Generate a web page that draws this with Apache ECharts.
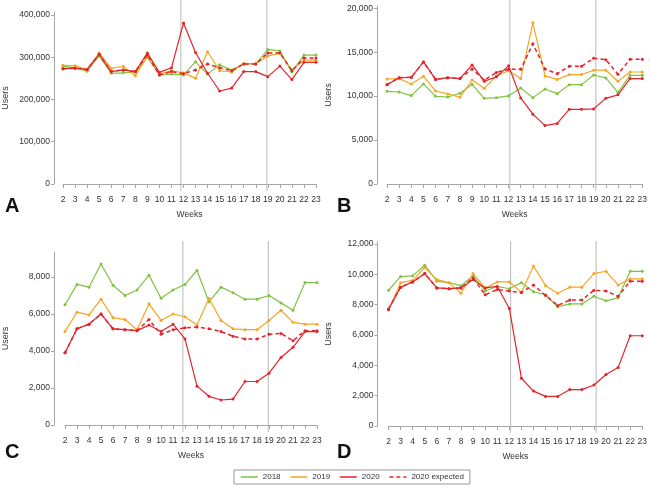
<!DOCTYPE html>
<html>
<head>
<meta charset="utf-8">
<script src="https://cdn.jsdelivr.net/npm/echarts@6/dist/echarts.min.js"></script>
<style>
  html, body { margin: 0; padding: 0; background: #fff; }
  #chart { width: 650px; height: 489px; }
</style>
</head>
<body>
<div id="chart"></div>
<script>
// weeks on the x axis
const weeks = ['2', '3', '4', '5', '6', '7', '8', '9', '10', '11', '12', '13', '14', '15', '16', '17', '18', '19', '20', '21', '22', '23']
const vLineWeeks = [12, 19]
const seriesNames = ['2018', '2019', '2020', '2020 expected']

// panel A
const a2018 = [279000, 275000, 267000, 303000, 262000, 263000, 265000, 300000, 258000, 260000, 258000, 289000, 260000, 282000, 270000, 284000, 284000, 318000, 315000, 265000, 305000, 305000]
const a2019 = [281000, 280000, 270000, 310000, 274000, 278000, 256000, 302000, 260000, 268000, 263000, 250000, 313000, 268000, 265000, 285000, 285000, 303000, 309000, 270000, 293000, 293000]
const a2020 = [273000, 274000, 271000, 307000, 266000, 270000, 266000, 310000, 264000, 275000, 381000, 311000, 262000, 220000, 227000, 266000, 266000, 254000, 279000, 247000, 288000, 288000]
const a2020exp = [273000, 274000, 271000, 307000, 266000, 270000, 266000, 306000, 258000, 266000, 261000, 270000, 284000, 275000, 268000, 284000, 284000, 310000, 310000, 268000, 298000, 298000]
const aTicks = [0, 100000, 200000, 300000, 400000]

// panel B
const b2018 = [10550, 10470, 10060, 11390, 9980, 9900, 10320, 11350, 9750, 9830, 10020, 10930, 9830, 10820, 10280, 11310, 11310, 12410, 12070, 10440, 12370, 12370]
const b2019 = [11950, 11990, 11390, 12260, 10590, 10250, 9870, 11840, 10890, 12300, 12900, 12000, 18350, 12300, 11900, 12450, 12450, 12950, 12950, 11700, 12750, 12750]
const b2020 = [11300, 12100, 12150, 13900, 11900, 12100, 12000, 13550, 11700, 12200, 13450, 9800, 7950, 6650, 6900, 8500, 8500, 8550, 9750, 10150, 12000, 12000]
const b2020exp = [11300, 12100, 12150, 13900, 11900, 12100, 12000, 13100, 11800, 12700, 13050, 13050, 15950, 13100, 12550, 13400, 13400, 14300, 14150, 12500, 14200, 14200]
const bTicks = [0, 5000, 10000, 15000, 20000]

// panel C
const c2018 = [6500, 7600, 7450, 8700, 7550, 7000, 7300, 8100, 6850, 7300, 7600, 8350, 6650, 7450, 7150, 6800, 6800, 7000, 6600, 6200, 7700, 7700]
const c2019 = [5050, 6100, 5950, 6800, 5800, 5700, 5150, 6550, 5650, 6000, 5850, 5400, 6850, 5650, 5200, 5150, 5150, 5650, 6200, 5550, 5450, 5450]
const c2020 = [3900, 5200, 5450, 6000, 5200, 5150, 5100, 5400, 5050, 5450, 4650, 2100, 1550, 1350, 1400, 2350, 2350, 2800, 3650, 4200, 5050, 5050]
const c2020exp = [3900, 5200, 5450, 6000, 5200, 5150, 5100, 5700, 4900, 5150, 5250, 5300, 5200, 5050, 4800, 4650, 4650, 4900, 4950, 4550, 5100, 5100]
const cTicks = [0, 2000, 4000, 6000, 8000]

// panel D
const d2018 = [8950, 9850, 9900, 10600, 9550, 9450, 9250, 9900, 8900, 9200, 9050, 9450, 8850, 8650, 7850, 8050, 8050, 8550, 8250, 8450, 10200, 10200]
const d2019 = [7650, 9450, 9600, 10450, 9650, 9450, 8750, 10050, 9100, 9500, 9500, 8800, 10550, 9250, 8750, 9150, 9150, 10050, 10200, 9300, 9700, 9700]
const d2020 = [7700, 9150, 9500, 10050, 9100, 9050, 9100, 9650, 9100, 9200, 7750, 3150, 2300, 1950, 1950, 2400, 2400, 2700, 3400, 3850, 5950, 5950]
const d2020exp = [7700, 9150, 9500, 10050, 9100, 9050, 9100, 9750, 8650, 9000, 8900, 8800, 9300, 8600, 7950, 8300, 8300, 8950, 8900, 8550, 9550, 9550]
const dTicks = [0, 2000, 4000, 6000, 8000, 10000, 12000]

const colors = ['#80c342', '#f5a623', '#e3242b', '#e3242b']
const font = 'Liberation Sans, Arial, sans-serif'
const axisColor = '#a6a6a6'

const panels = [
  { label: 'A', data: [a2018, a2019, a2020, a2020exp], ticks: aTicks, max: 407000, left: 58, top: 12, width: 258, height: 172, yOff: 9, vTop: 0 },
  { label: 'B', data: [b2018, b2019, b2020, b2020exp], ticks: bTicks, max: 20260, left: 387, top: 6, width: 258, height: 178, yOff: 10, vTop: 0 },
  { label: 'C', data: [c2018, c2019, c2020, c2020exp], ticks: cTicks, max: 9350, left: 61, top: 252, width: 256, height: 173, yOff: 11, vTop: 241 },
  { label: 'D', data: [d2018, d2019, d2020, d2020exp], ticks: dTicks, max: 12130, left: 388.5, top: 242, width: 256.5, height: 184, yOff: 11, vTop: 241 },
]

const grid = []
const xAxis = []
const yAxis = []
const series = []
const graphic = []

panels.forEach((p, i) => {
  // main plot
  grid.push({ left: p.left, top: p.top, width: p.width, height: p.height })
  // overlay for the vertical week markers
  grid.push({ left: p.left, top: p.vTop, width: p.width, height: p.top + p.height + 7 - p.vTop })

  xAxis.push({
    gridIndex: i * 2,
    type: 'category',
    data: weeks,
    boundaryGap: false,
    offset: 7,
    name: 'Weeks',
    nameLocation: 'middle',
    nameGap: 19,
    nameTextStyle: { color: '#333', fontSize: 8.5, fontFamily: font },
    axisLine: { lineStyle: { color: axisColor } },
    axisTick: { length: 4, lineStyle: { color: axisColor } },
    axisLabel: { interval: 0, margin: 4, color: '#333', fontSize: 8.5, fontFamily: font },
    splitLine: { show: false },
  })
  xAxis.push({ gridIndex: i * 2 + 1, type: 'value', min: 2, max: 23, show: false })

  yAxis.push({
    gridIndex: i * 2,
    type: 'value',
    min: 0,
    max: p.max,
    offset: p.yOff,
    name: 'Users',
    nameLocation: 'middle',
    nameGap: 44,
    nameTextStyle: { color: '#333', fontSize: 9, fontFamily: font },
    axisLine: { show: true, lineStyle: { color: axisColor } },
    axisTick: { show: true, length: 3, customValues: p.ticks, lineStyle: { color: axisColor } },
    axisLabel: {
      customValues: p.ticks,
      margin: 4,
      color: '#333',
      fontSize: 8.5,
      fontFamily: font,
      formatter: v => v.toLocaleString('en-US'),
    },
    splitLine: { show: false },
  })
  yAxis.push({ gridIndex: i * 2 + 1, type: 'value', min: 0, max: 1, show: false })

  vLineWeeks.forEach(w => {
    series.push({
      type: 'line',
      xAxisIndex: i * 2 + 1,
      yAxisIndex: i * 2 + 1,
      data: [[w, 0], [w, 1]],
      symbol: 'none',
      silent: true,
      z: 1,
      lineStyle: { color: '#b5bcb2', width: 1 },
    })
  })

  p.data.forEach((vals, k) => {
    series.push({
      name: seriesNames[k],
      type: 'line',
      xAxisIndex: i * 2,
      yAxisIndex: i * 2,
      data: vals,
      symbol: 'circle',
      symbolSize: 3,
      z: 3 + k,
      color: colors[k],
      itemStyle: { color: colors[k] },
      lineStyle: { color: colors[k], width: k === 3 ? 1.5 : 1.2, type: k === 3 ? [4, 3] : 'solid' },
    })
  })

  graphic.push({
    type: 'text',
    left: i % 2 === 0 ? 5 : 337,
    top: i < 2 ? 196 : 442,
    style: { text: p.label, font: 'bold 20px ' + font, fill: '#111' },
  })
})

const chart = echarts.init(document.getElementById('chart'))
chart.setOption({
  animation: false,
  textStyle: { fontFamily: font },
  grid,
  xAxis,
  yAxis,
  series,
  graphic,
  legend: {
    data: seriesNames,
    left: 234,
    top: 470,
    padding: [3, 6],
    itemWidth: 17,
    itemHeight: 8,
    itemGap: 9,
    borderColor: '#999',
    borderWidth: 1,
    borderRadius: 0,
    itemStyle: { opacity: 0 },
    lineStyle: { width: 1.5 },
    textStyle: { fontSize: 8, color: '#333', fontFamily: font },
  },
})
</script>
</body>
</html>
